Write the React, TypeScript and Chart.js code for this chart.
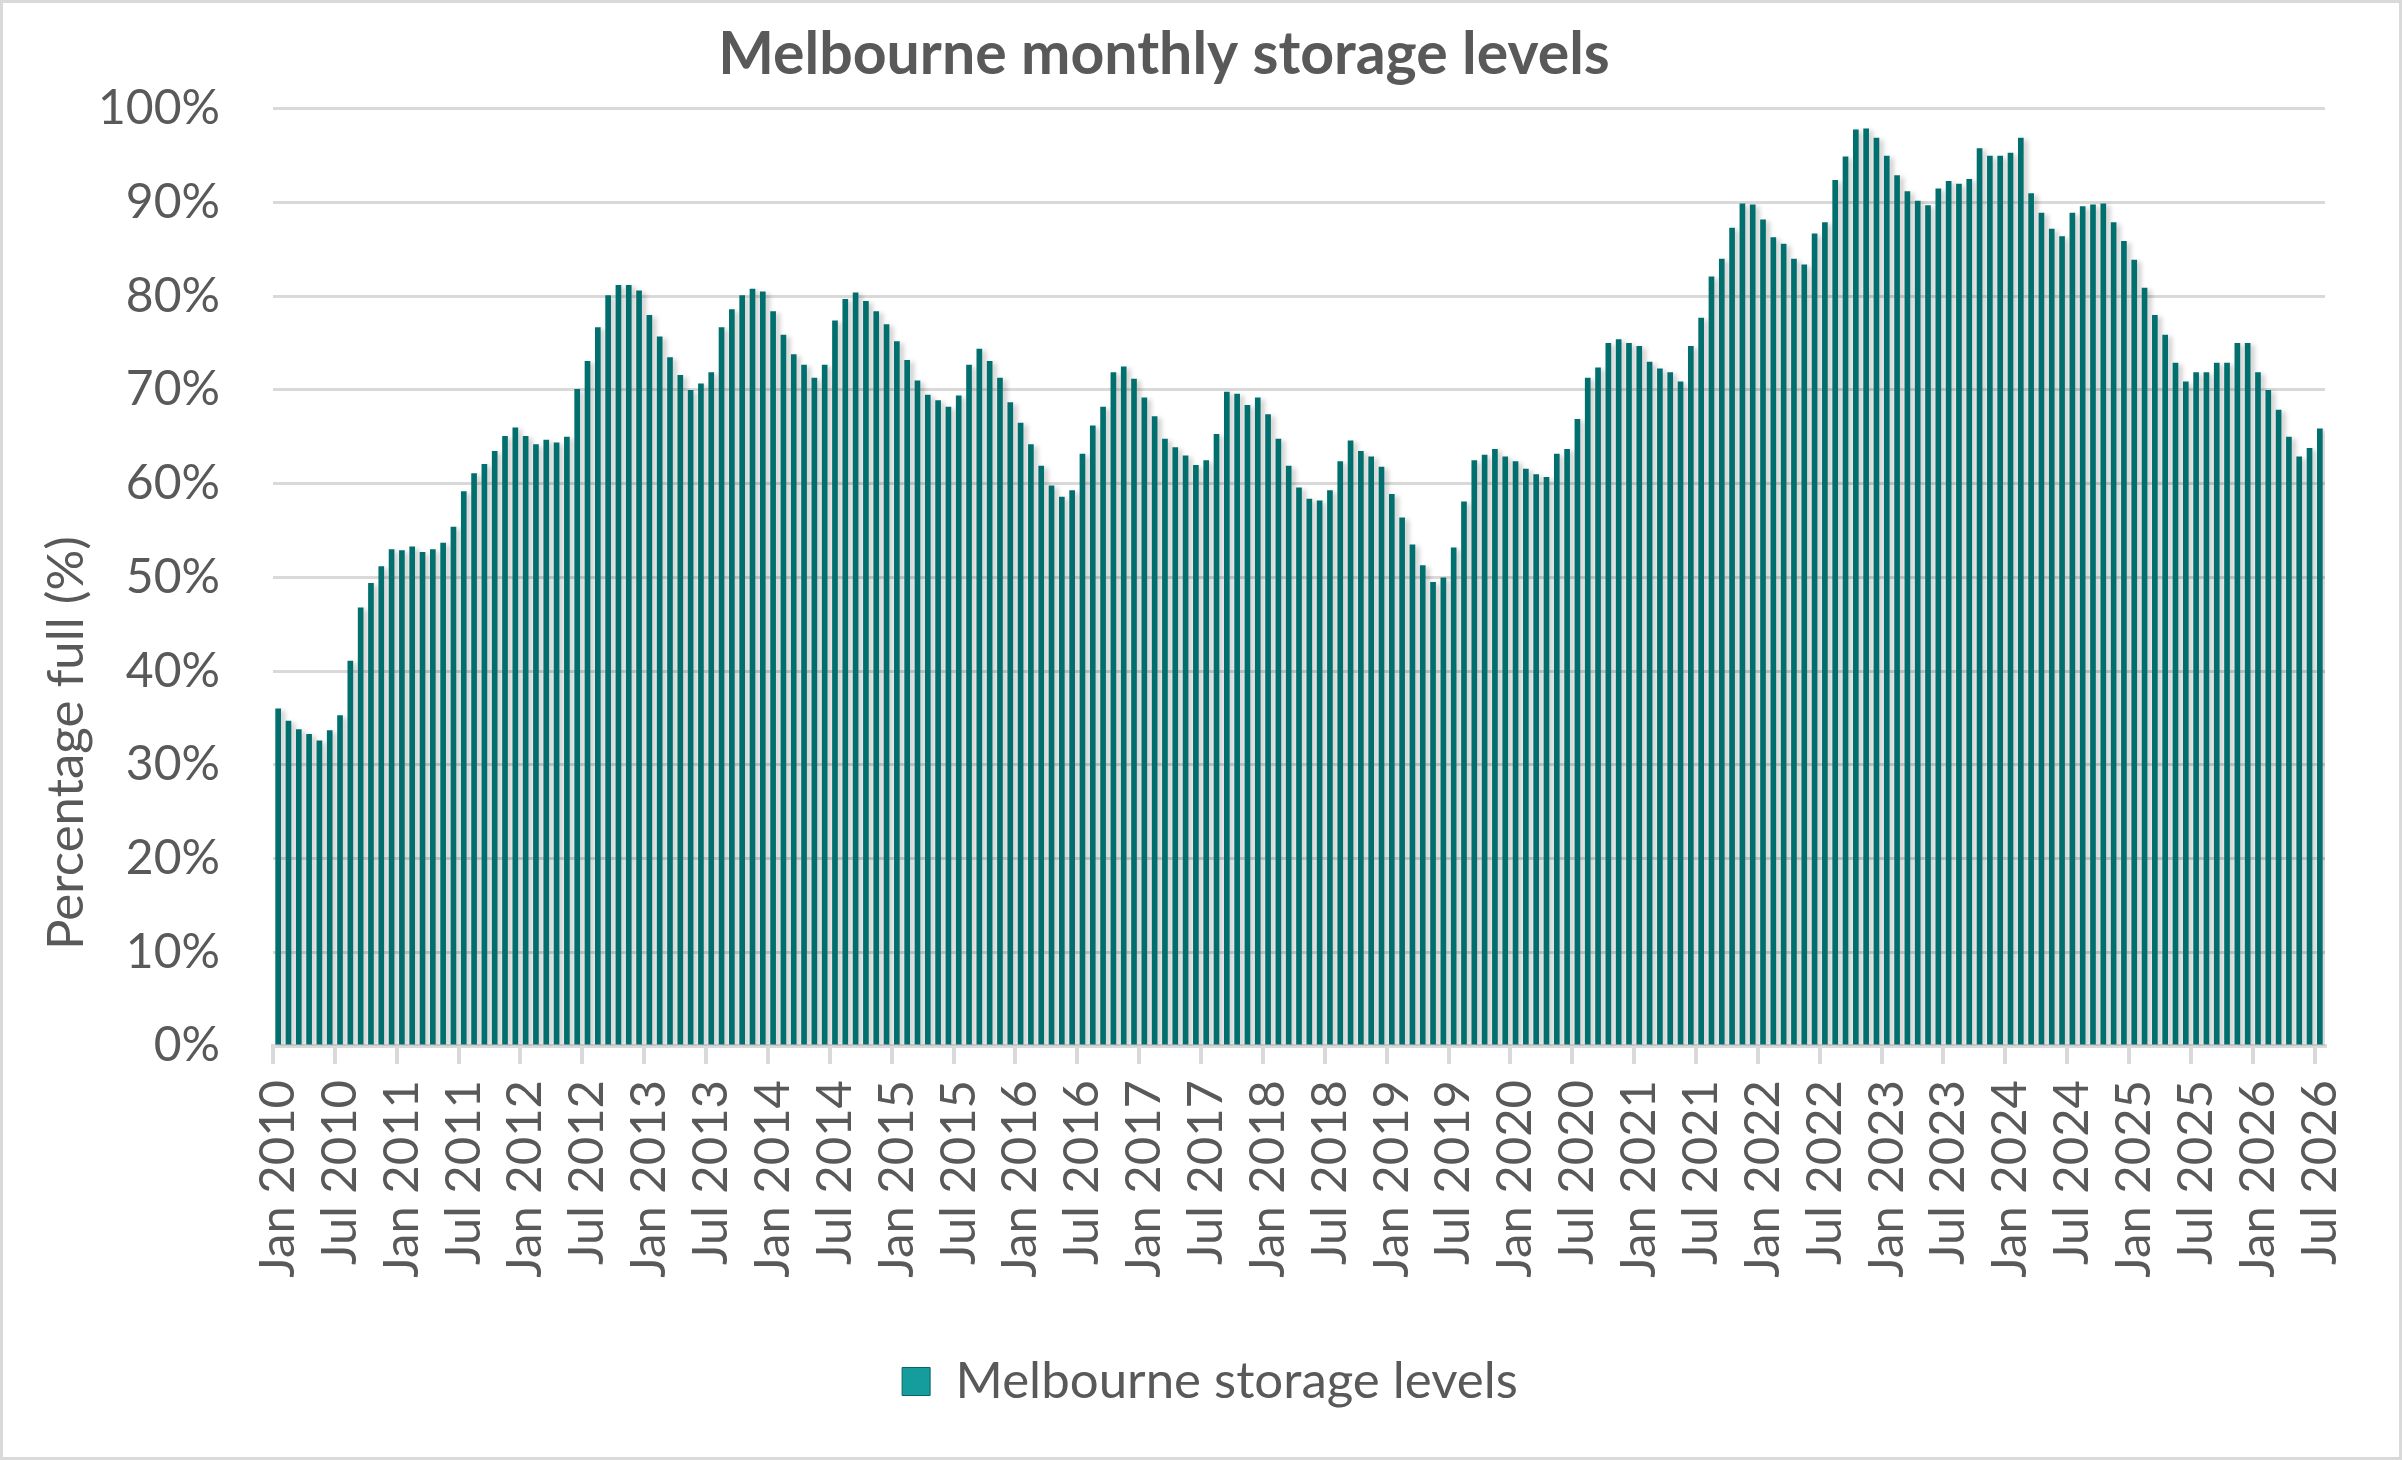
import { useEffect, useRef } from 'react';
import { Chart, registerables } from 'chart.js';

Chart.register(...registerables);

const TITLE = 'Melbourne monthly storage levels';
const Y_TITLE = 'Percentage full (%)';
const SERIES_NAME = 'Melbourne storage levels';

const MONTHS = ['Jan', 'Feb', 'Mar', 'Apr', 'May', 'Jun', 'Jul', 'Aug', 'Sep', 'Oct', 'Nov', 'Dec'];
const YEARS = [2010, 2011, 2012, 2013, 2014, 2015, 2016, 2017, 2018, 2019, 2020, 2021, 2022, 2023, 2024, 2025, 2026];

// monthly storage (% full)
const levels2010 = [36.0, 34.7, 33.8, 33.3, 32.6, 33.7, 35.3, 41.1, 46.8, 49.4, 51.2, 53.0];
const levels2011 = [52.9, 53.3, 52.7, 53.0, 53.7, 55.4, 59.2, 61.1, 62.1, 63.5, 65.1, 66.0];
const levels2012 = [65.1, 64.2, 64.7, 64.4, 65.0, 70.1, 73.1, 76.7, 80.1, 81.2, 81.2, 80.6];
const levels2013 = [78.0, 75.7, 73.5, 71.6, 70.0, 70.7, 71.9, 76.7, 78.6, 80.1, 80.8, 80.5];
const levels2014 = [78.4, 75.9, 73.8, 72.7, 71.3, 72.7, 77.4, 79.7, 80.4, 79.5, 78.4, 77.0];
const levels2015 = [75.2, 73.2, 71.0, 69.5, 68.9, 68.2, 69.4, 72.7, 74.4, 73.1, 71.3, 68.7];
const levels2016 = [66.5, 64.2, 61.9, 59.8, 58.6, 59.3, 63.2, 66.2, 68.2, 71.9, 72.5, 71.2];
const levels2017 = [69.2, 67.2, 64.8, 63.9, 63.0, 62.0, 62.5, 65.3, 69.8, 69.6, 68.4, 69.2];
const levels2018 = [67.4, 64.8, 61.9, 59.6, 58.4, 58.2, 59.3, 62.4, 64.6, 63.5, 62.9, 61.8];
const levels2019 = [58.9, 56.4, 53.5, 51.3, 49.5, 50.0, 53.2, 58.1, 62.5, 63.1, 63.7, 62.9];
const levels2020 = [62.4, 61.6, 61.0, 60.7, 63.2, 63.7, 66.9, 71.3, 72.4, 75.0, 75.4, 75.0];
const levels2021 = [74.7, 73.0, 72.3, 71.9, 70.9, 74.7, 77.7, 82.1, 84.0, 87.3, 89.9, 89.8];
const levels2022 = [88.2, 86.3, 85.6, 84.0, 83.4, 86.7, 87.9, 92.4, 94.9, 97.8, 97.9, 96.9];
const levels2023 = [95.0, 92.9, 91.2, 90.2, 89.7, 91.5, 92.3, 92.0, 92.5, 95.8, 95.0, 95.0];
const levels2024 = [95.3, 96.9, 91.0, 88.9, 87.2, 86.4, 88.9, 89.6, 89.8, 89.9, 87.9, 85.9];
const levels2025 = [83.9, 80.9, 78.0, 75.9, 72.9, 70.9, 71.9, 71.9, 72.9, 72.9, 75.0, 75.0];
const levels2026 = [71.9, 70.0, 67.9, 65.0, 62.9, 63.8, 65.9];

const storageLevels = [
  ...levels2010, ...levels2011, ...levels2012, ...levels2013, ...levels2014, ...levels2015,
  ...levels2016, ...levels2017, ...levels2018, ...levels2019, ...levels2020, ...levels2021,
  ...levels2022, ...levels2023, ...levels2024, ...levels2025, ...levels2026,
];

// "Jan 2010" ... "Jul 2026", one per bar
const monthLabels: string[] = [];
YEARS.forEach((y) => {
  for (let m = 0; m < 12 && monthLabels.length < storageLevels.length; m++) {
    monthLabels.push(`${MONTHS[m]} ${y}`);
  }
});

const FONT = 'Lato';
const TEXT = '#595959';
const GRID = '#d9d9d9';

// grey shadow falling into the gaps between bars, like the Excel effect
// (bars have no border, otherwise Chart.js clips each bar and the shadow is lost)
const barShadow = {
  id: 'barShadow',
  beforeDatasetsDraw(chart: any) {
    const c = chart.ctx;
    c.save();
    c.shadowColor = 'rgba(0, 0, 0, 0.2)';
    c.shadowBlur = 5;
    c.shadowOffsetX = 4;
    c.shadowOffsetY = 2;
  },
  afterDatasetsDraw(chart: any) {
    chart.ctx.restore();
  },
};

// legend in the original sits a little right of the plot centre
const legendNudge = {
  id: 'legendNudge',
  afterLayout(chart: any) {
    if (chart.legend) {
      chart.legend.left += 46;
      chart.legend.right += 46;
    }
  },
};

// y axis title sits lower than the plot centre in the original
const yAxisTitle = {
  id: 'yAxisTitle',
  afterDraw(chart: any) {
    const c = chart.ctx;
    c.save();
    c.translate(64, 740);
    c.rotate(-Math.PI / 2);
    c.font = `51px ${FONT}`;
    c.fillStyle = TEXT;
    c.textAlign = 'center';
    c.textBaseline = 'middle';
    c.fillText(Y_TITLE, 0, 0);
    c.restore();
  },
};

export default function App() {
  const chartRef = useRef<HTMLCanvasElement>(null);
  const chartInstance = useRef<Chart | null>(null);

  useEffect(() => {
    document.body.style.margin = '0';
    if (!chartRef.current) return;
    if (chartInstance.current) chartInstance.current.destroy();

    chartInstance.current = new Chart(chartRef.current, {
      type: 'bar',
      data: {
        labels: monthLabels,
        datasets: [
          {
            label: SERIES_NAME,
            data: storageLevels,
            backgroundColor: '#006f6d',
            borderWidth: 0,
            barPercentage: 0.55,
            categoryPercentage: 1,
          },
        ],
      },
      plugins: [barShadow, legendNudge, yAxisTitle],
      options: {
        responsive: false,
        devicePixelRatio: 1,
        animation: false,
        layout: { padding: { left: 0, right: 74, top: 0, bottom: 40 } },
        plugins: {
          title: {
            display: true,
            text: TITLE,
            color: TEXT,
            font: { family: FONT, size: 59, weight: 'bold' },
            padding: { top: 17, bottom: 18 },
          },
          legend: {
            position: 'bottom',
            labels: {
              color: TEXT,
              font: { family: FONT, size: 51 },
              boxWidth: 28,
              boxHeight: 28,
              padding: 10,
              generateLabels: (chart: any) =>
                Chart.defaults.plugins.legend.labels.generateLabels(chart).map((l: any) => ({
                  ...l,
                  fillStyle: '#149d9c',
                  strokeStyle: '#0a6463',
                  lineWidth: 1,
                })),
            },
          },
          tooltip: { enabled: false },
        },
        scales: {
          x: {
            afterFit: (scale: any) => {
              scale.height = 300;
            },
            grid: {
              offset: true,
              drawOnChartArea: false,
              drawTicks: true,
              tickLength: 18,
              lineWidth: 4,
              color: (ctx: any) => (ctx.index % 6 === 0 ? GRID : 'rgba(0,0,0,0)'),
            },
            border: { display: true, color: GRID, width: 4 },
            ticks: {
              autoSkip: false,
              maxRotation: 90,
              minRotation: 90,
              padding: 16,
              color: TEXT,
              font: { family: FONT, size: 49 },
              callback: (_v: any, i: number) => (i % 6 === 0 ? monthLabels[i] : ''),
            },
          },
          y: {
            min: 0,
            max: 100,
            afterFit: (scale: any) => {
              scale.width = 270;
            },
            grid: { color: GRID, lineWidth: 3, drawTicks: false },
            border: { display: false },
            ticks: {
              stepSize: 10,
              padding: 53,
              color: TEXT,
              font: { family: FONT, size: 48 },
              callback: (v: any) => `${v}%`,
            },
          },
        },
      },
    });

    return () => {
      if (chartInstance.current) {
        chartInstance.current.destroy();
        chartInstance.current = null;
      }
    };
  }, []);

  return (
    <div
      style={{
        width: 2402,
        height: 1460,
        boxSizing: 'border-box',
        border: `3px solid ${GRID}`,
        background: '#ffffff',
      }}
    >
      <canvas ref={chartRef} width={2396} height={1454} style={{ display: 'block' }} />
    </div>
  );
}
